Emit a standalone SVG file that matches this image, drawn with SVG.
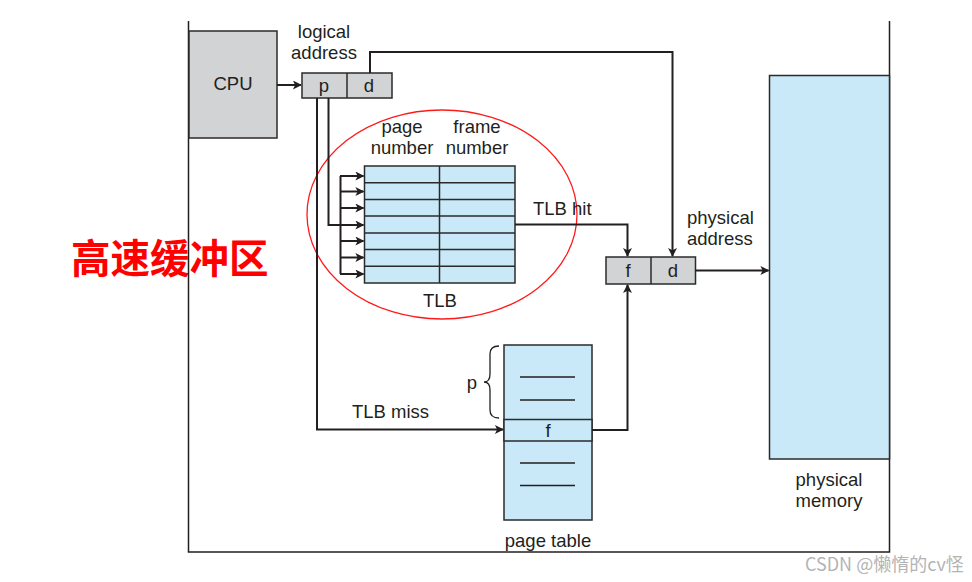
<svg xmlns="http://www.w3.org/2000/svg" width="972" height="582" viewBox="0 0 972 582">
<style>
  text { font-family: "Liberation Sans", Arial, sans-serif; fill: #231f20; }
  .t { font-size: 18.5px; }
  .mid { text-anchor: middle; }
  .gray { fill: #d1d3d4; stroke: #2b2b2b; stroke-width: 1.5; }
  .blue { fill: #c9e8f8; stroke: #2b2b2b; stroke-width: 1.5; }
  .ln { fill: none; stroke: #231f20; stroke-width: 2; }
  .arr { fill: none; stroke: #231f20; stroke-width: 2; marker-end: url(#ah); }
</style>
<defs>
  <marker id="ah" viewBox="0 0 10 10" refX="9" refY="5" markerWidth="10" markerHeight="9" markerUnits="userSpaceOnUse" orient="auto">
    <path d="M0,0 L10,5 L0,10 L2.5,5 z" fill="#231f20"/>
  </marker>
</defs>
<rect width="972" height="582" fill="#ffffff"/>

<text x="71" y="273" style="font-family:'Noto Sans CJK SC', sans-serif; font-size:39.5px; font-weight:bold; fill:#ff0000;">高速缓冲区</text>

<g id="frame">
  <path d="M188.5,21 V552 H889.5 V21" fill="none" stroke="#231f20" stroke-width="1.5"/>
</g>

<g id="cpu">
  <rect class="gray" x="189" y="31" width="88" height="107"/>
  <text class="t mid" x="233" y="90">CPU</text>
</g>

<g id="logical-address">
  <text class="t mid" x="324" y="38">logical</text>
  <text class="t mid" x="324" y="59">address</text>
  <rect class="gray" x="302" y="73" width="90" height="25"/>
  <line x1="347" y1="73" x2="347" y2="98" stroke="#2b2b2b" stroke-width="1.5"/>
  <text class="t mid" x="324" y="92">p</text>
  <text class="t mid" x="369" y="92">d</text>
</g>

<g id="tlb">
  <ellipse cx="442" cy="214.5" rx="135" ry="104.5" fill="none" stroke="#ff1a1a" stroke-width="1.3"/>
  <text class="t mid" x="402" y="133">page</text>
  <text class="t mid" x="402" y="154">number</text>
  <text class="t mid" x="477" y="133">frame</text>
  <text class="t mid" x="477" y="154">number</text>
  <rect class="blue" x="364.5" y="166" width="150.5" height="117"/>
  <g stroke="#2b2b2b" stroke-width="1.5">
    <line x1="439.5" y1="166" x2="439.5" y2="283"/>
    <line x1="364.5" y1="182.7" x2="515" y2="182.7"/>
    <line x1="364.5" y1="199.4" x2="515" y2="199.4"/>
    <line x1="364.5" y1="216.1" x2="515" y2="216.1"/>
    <line x1="364.5" y1="232.9" x2="515" y2="232.9"/>
    <line x1="364.5" y1="249.6" x2="515" y2="249.6"/>
    <line x1="364.5" y1="266.3" x2="515" y2="266.3"/>
  </g>
  <text class="t mid" x="440" y="307">TLB</text>
</g>

<g id="physical-address">
  <text class="t" x="687" y="224">physical</text>
  <text class="t" x="687" y="245">address</text>
  <rect class="gray" x="606" y="257" width="89.5" height="27"/>
  <line x1="651" y1="257" x2="651" y2="284" stroke="#2b2b2b" stroke-width="1.5"/>
  <text class="t mid" x="628" y="277">f</text>
  <text class="t mid" x="673" y="277">d</text>
</g>

<g id="page-table">
  <rect class="blue" x="504" y="345" width="88" height="175"/>
  <rect class="blue" x="504" y="419.5" width="88" height="21.5"/>
  <g stroke="#231f20" stroke-width="1.5">
    <line x1="520" y1="377" x2="575" y2="377"/>
    <line x1="520" y1="400" x2="575" y2="400"/>
    <line x1="520" y1="463" x2="575" y2="463"/>
    <line x1="520" y1="485.5" x2="575" y2="485.5"/>
  </g>
  <text class="t mid" x="548" y="437">f</text>
  <path d="M499,346 Q490,346 490,354 V374 Q490,382 484,382 Q490,382 490,390 V410 Q490,418 499,418" fill="none" stroke="#231f20" stroke-width="1.3"/>
  <text class="t mid" x="472" y="389">p</text>
  <text class="t mid" x="548" y="547">page table</text>
</g>

<g id="physical-memory">
  <rect class="blue" x="769.5" y="75.5" width="120" height="383.5"/>
  <text class="t mid" x="829" y="486">physical</text>
  <text class="t mid" x="829" y="507">memory</text>
</g>

<g id="connectors">
  <path class="arr" d="M277,85 H301"/>
  <path class="arr" d="M370,73 V52 H672.5 V256"/>
  <path class="ln" d="M328.5,98 V225 H340"/>
  <path class="ln" d="M340.5,176 V274"/>
  <path class="arr" d="M340,176 H363.5"/>
  <path class="arr" d="M340,191.5 H363.5"/>
  <path class="arr" d="M340,208 H363.5"/>
  <path class="arr" d="M340,225 H363.5"/>
  <path class="arr" d="M340,241 H363.5"/>
  <path class="arr" d="M340,257.5 H363.5"/>
  <path class="arr" d="M340,274 H363.5"/>
  <path class="arr" d="M515,224.5 H627.5 V256"/>
  <path class="arr" d="M317,98 V429.5 H503"/>
  <path class="arr" d="M592,430 H627.5 V285"/>
  <path class="arr" d="M695.5,270.5 H768.5"/>
  <text class="t" x="533" y="215">TLB hit</text>
  <text class="t" x="352" y="418">TLB miss</text>
</g>

<text x="805" y="571" style="font-family:'Noto Sans CJK SC', sans-serif; font-size:18px; fill:#b4b4b4;">CSDN @懒惰的cv怪</text>
</svg>
